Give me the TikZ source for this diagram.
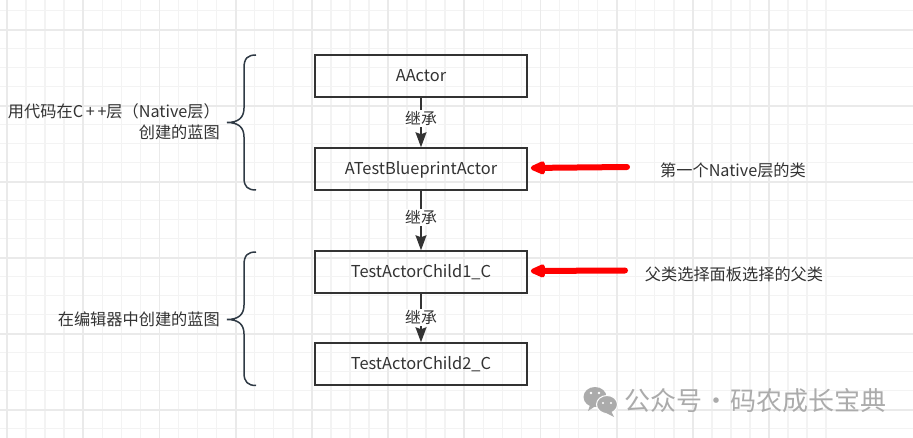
\documentclass[tikz,border=0pt]{standalone}
\usepackage{fontspec}
\setmainfont{Noto Sans CJK SC}
\usetikzlibrary{arrows.meta, positioning}
\definecolor{inkgrey}{HTML}{333333}
\definecolor{bracegrey}{HTML}{2F3A45}
\definecolor{gridminor}{HTML}{F3F3F3}
\definecolor{gridmajor}{HTML}{EAEAEA}
\definecolor{markgrey}{HTML}{ABABAB}
\tikzset{
    %Define style for boxes
    blockbox/.style={
           rectangle,
           draw=inkgrey, line width=1.5pt,
           text=inkgrey,
           minimum width=212pt,
           minimum height=42pt,
           text height=14pt,
           text depth=2pt,
           font=\fontsize{16.4}{18}\selectfont},
    % Define arrow styles
    inherit/.style={
           draw=inkgrey,
           line width=1.5pt,
           -{Stealth[length=15pt,width=11pt,inset=2pt]}},
    redmark/.style={
           draw=red,
           line width=6pt,
           line cap=round,
           shorten >=3pt,
           -{Triangle[length=18pt,width=14pt,round=false]}},
    % Define style for texts
    edgetext/.style={
           fill=white,
           inner sep=1.5pt,
           text=inkgrey,
           font=\fontsize{15.8}{18}\selectfont},
    note/.style={
           text=inkgrey,
           inner sep=0pt,
           font=\fontsize{16.2}{21}\selectfont},
    bracket/.style={
           draw=bracegrey,
           line width=1.5pt}
}
\begin{document}
\begin{tikzpicture}[x=1pt, y=-1pt]
	\useasboundingbox (0,0) rectangle (913,438);
	\fill[white] (0,0) rectangle (913,438);
	%
	% grille
	%
	\foreach \k in {-4,...,43}
		\draw[gridminor, line width=1.5pt] (7+19.05*\k,0) -- (7+19.05*\k,438);
	\foreach \k in {-1,...,23}
		\draw[gridminor, line width=1.5pt] (0,10.7+19*\k) -- (913,10.7+19*\k);
	\foreach \k in {-1,...,10}
		\draw[gridmajor, line width=1.8pt] (7+76.2*\k,0) -- (7+76.2*\k,438);
	\foreach \k in {0,...,5}
		\draw[gridmajor, line width=1.8pt] (0,29.7+76*\k) -- (913,29.7+76*\k);
	%
	% noeuds
	%
	\node[blockbox] (aactor) at (421,76) {AActor};
	\node[blockbox, below=49.5pt of aactor] (testactor) {ATestBlueprintActor};
	\node[blockbox, below=59.5pt of testactor] (childone) {TestActorChild1\_C};
	\node[blockbox, below=48.5pt of childone] (childtwo) {TestActorChild2\_C};
	%
	% Liens
	%
	\draw[inherit] (aactor) -- node[edgetext, pos=0.42] {继承} (testactor);
	\draw[inherit] (testactor) -- node[edgetext, pos=0.45] {继承} (childone);
	\draw[inherit] (childone) -- node[edgetext, pos=0.49] {继承} (childtwo);
	%
	% Marques
	%
	\coordinate (markone) at (627,167);
	\coordinate (marktwo) at (625,270.5);
	\draw[redmark] (markone) -- ([yshift=1pt]testactor.east);
	\draw[redmark] (marktwo) -- ([yshift=1pt]childone.east);
	\node[note] (noteone) at (733,170) {第一个Native层的类};
	\node[note] (notetwo) at (734,274) {父类选择面板选择的父类};
	%
	% Accolades
	%
	\draw[bracket] (256,55) .. controls (248,55) and (244,58) .. (244,68) -- (244,108)
		.. controls (244,118) and (238,122.5) .. (227,122.5)
		.. controls (238,122.5) and (244,127) .. (244,137) -- (244,178)
		.. controls (244,187) and (248,190) .. (256,190);
	\draw[bracket] (256,252) .. controls (248,252) and (244,255) .. (244,265) -- (244,305)
		.. controls (244,315) and (238,319.5) .. (227,319.5)
		.. controls (238,319.5) and (244,324) .. (244,334) -- (244,373)
		.. controls (244,382) and (248,385.5) .. (256,385.5);
	\node[note, align=right, anchor=east] (nativetext) at (220,121.5) {用代码在C\,+\,+层（Native层）\\创建的蓝图};
	\node[note, anchor=east] (editortext) at (220,319.5) {在编辑器中创建的蓝图};
	%
	% Filigrane
	%
	\fill[markgrey] (595,397) ellipse (11.5 and 10);
	\fill[markgrey] (590,405) -- (588,411) -- (597,405) -- cycle;
	\fill[markgrey, draw=white, line width=1pt] (607,404.5) ellipse (10.5 and 9);
	\fill[markgrey] (611,411) -- (614,417) -- (604,412) -- cycle;
	\fill[white] (591,393) circle (1.3) (599,393) circle (1.3) (603,403) circle (1.2) (611,403) circle (1.2);
	\node[text=markgrey, inner sep=0pt, anchor=west, font=\fontsize{26}{28}\selectfont] (marktext) at (624,401) {公众号\makebox[28pt][c]{·}码农成长宝典};
\end{tikzpicture}
\end{document}
